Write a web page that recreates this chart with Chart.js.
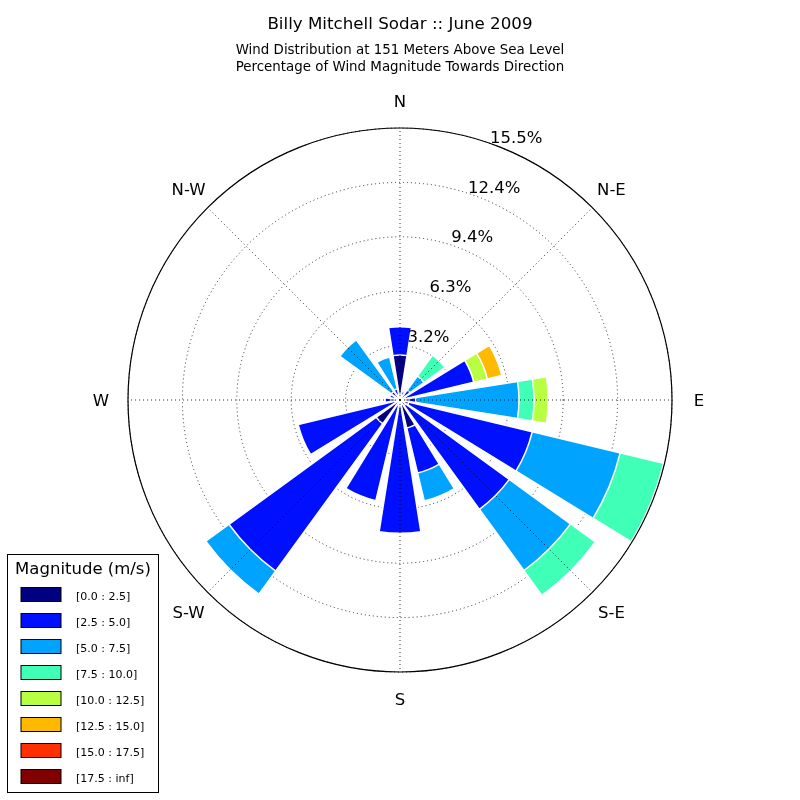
<!DOCTYPE html>
<html>
<head>
<meta charset="utf-8">
<script src="https://cdn.jsdelivr.net/npm/chart.js@4.4.1/dist/chart.umd.min.js"></script>
<style>
html,body{margin:0;padding:0;background:#fff;}
#wrap{width:800px;height:800px;position:relative;}
</style>
</head>
<body>
<div id="wrap"><canvas id="c" width="800" height="800"></canvas></div>
<script>
// ---- data ----
const directions = ['N','NNE','NE','ENE','E','ESE','SE','SSE','S','SSW','SW','WSW','W','WNW','NW','NNW'];
const binLabels = ['[0.0 : 2.5]','[2.5 : 5.0]','[5.0 : 7.5]','[7.5 : 10.0]','[10.0 : 12.5]','[12.5 : 15.0]','[15.0 : 17.5]','[17.5 : inf]'];
const binColors = ['#000080','#0010ff','#00a4ff','#40ffb7','#b7ff40','#ffb900','#ff3000','#800000'];
// percentage per speed bin, per direction (N, NNE, ... NNW)
const bin0 = [2.56, 0.30, 0.30, 0.30, 0.50, 0.51, 0.40, 1.64, 0.30, 0.30, 1.67, 0.30, 0.50, 0.30, 0.30, 0.30];
const bin1 = [1.62, 0.20, 0.40, 4.02, 0.40, 7.24, 7.30, 2.64, 7.30, 5.61, 10.38, 5.67, 0.35, 0.30, 0.30, 0.35];
const bin2 = [0, 0, 0.99, 0, 5.88, 5.15, 4.31, 1.64, 0, 0, 1.63, 0, 0, 0, 3.64, 1.87];
const bin3 = [0, 0, 1.47, 0, 0.86, 2.55, 1.75, 0, 0, 0, 0, 0, 0, 0, 0, 0];
const bin4 = [0, 0, 0, 0.80, 0.81, 0, 0, 0, 0, 0, 0, 0, 0, 0, 0, 0];
const bin5 = [0, 0, 0, 0.85, 0, 0, 0, 0, 0, 0, 0, 0, 0, 0, 0, 0];
const bin6 = [0, 0, 0, 0, 0, 0, 0, 0, 0, 0, 0, 0, 0, 0, 0, 0];
const bin7 = [0, 0, 0, 0, 0, 0, 0, 0, 0, 0, 0, 0, 0, 0, 0, 0];
const tickLabels = ['3.2%','6.3%','9.4%','12.4%','15.5%'];
const compassLabels = ['N','N-E','E','S-E','S','S-W','W','N-W'];
const titleText = 'Billy Mitchell Sodar :: June 2009';
const subtitleLines = ['Wind Distribution at 151 Meters Above Sea Level','Percentage of Wind Magnitude Towards Direction'];
const legendTitle = 'Magnitude (m/s)';
const rMax = 15.5;

// ---- build stacked (cumulative) datasets; each direction followed by a gap slot ----
const bins = [bin0, bin1, bin2, bin3, bin4, bin5, bin6, bin7];
const labels32 = [];
directions.forEach(d => { labels32.push(d); labels32.push(''); });
const cum = directions.map(() => 0);
const datasets = bins.map((b, k) => {
  const data = [];
  directions.forEach((d, i) => { cum[i] += b[i]; data.push(+cum[i].toFixed(4)); data.push(0); });
  return {
    label: binLabels[k],
    data: data,
    backgroundColor: binColors[k],
    borderColor: '#ffffff',
    borderWidth: (ctx) => (ctx.dataIndex % 2 === 0 ? 1.5 : 0),
    borderJoinStyle: 'miter',
    angle: (ctx) => (ctx.dataIndex % 2 === 0 ? 18 : 4.5)
  };
});

const FONT = '"DejaVu Sans", "Liberation Sans", sans-serif';
const DY = 2; // visual vertical centring correction for text

const decor = {
  id: 'decor',
  afterDraw(chart) {
    const ctx = chart.ctx;
    const s = chart.scales.r;
    const cx = s.xCenter, cy = s.yCenter, R = s.drawingArea;
    ctx.save();
    // angle lines (dotted)
    ctx.strokeStyle = 'rgba(0,0,0,0.8)';
    ctx.lineWidth = 1;
    ctx.setLineDash([1, 3]);
    for (let k = 0; k < 8; k++) {
      const a = k * Math.PI / 4;
      ctx.beginPath();
      ctx.moveTo(cx, cy);
      ctx.lineTo(cx + R * Math.sin(a), cy - R * Math.cos(a));
      ctx.stroke();
    }
    ctx.setLineDash([]);
    // outer circle
    ctx.strokeStyle = '#000';
    ctx.lineWidth = 1.2;
    ctx.beginPath();
    ctx.arc(cx, cy, R, 0, Math.PI * 2);
    ctx.stroke();
    // tick labels
    ctx.fillStyle = '#000';
    ctx.font = '16.5px ' + FONT;
    ctx.textAlign = 'center';
    ctx.textBaseline = 'middle';
    const ta = 23.8 * Math.PI / 180;
    s.ticks.forEach((t, i) => {
      if (i === 0) return;
      const d = s.getDistanceFromCenterForValue(t.value) + 16;
      ctx.fillText(tickLabels[i - 1], cx + d * Math.sin(ta), cy - d * Math.cos(ta) + DY);
    });
    // compass labels
    compassLabels.forEach((lab, k) => {
      const a = k * Math.PI / 4;
      const d = R + 27;
      ctx.fillText(lab, cx + d * Math.sin(a), cy - d * Math.cos(a) + DY);
    });
    // titles
    ctx.font = '16.7px ' + FONT;
    ctx.fillText(titleText, 400, 23 + DY);
    ctx.font = '13.4px ' + FONT;
    ctx.fillText(subtitleLines[0], 400, 49 + DY);
    ctx.fillText(subtitleLines[1], 400, 66 + DY);
    // legend
    ctx.fillStyle = '#fff';
    ctx.fillRect(7.5, 554.5, 151, 238);
    ctx.strokeStyle = '#000';
    ctx.lineWidth = 1;
    ctx.strokeRect(7.5, 554.5, 151, 238);
    ctx.fillStyle = '#000';
    ctx.font = '16.5px ' + FONT;
    ctx.textAlign = 'center';
    ctx.fillText(legendTitle, 83, 568 + DY);
    ctx.font = '11px ' + FONT;
    ctx.textAlign = 'left';
    binLabels.forEach((lab, k) => {
      const y = 587.5 + k * 26;
      ctx.fillStyle = binColors[k];
      ctx.fillRect(21, y, 40, 14);
      ctx.strokeStyle = '#000';
      ctx.strokeRect(21, y, 40, 14);
      ctx.fillStyle = '#000';
      ctx.fillText(lab, 76, y + 9 + 1);
    });
    ctx.restore();
  }
};

new Chart(document.getElementById('c'), {
  type: 'polarArea',
  data: { labels: labels32, datasets: datasets },
  options: {
    responsive: false,
    animation: false,
    devicePixelRatio: 1,
    layout: { padding: { top: 128, bottom: 128, left: 128, right: 128 } },
    plugins: { legend: { display: false }, tooltip: { enabled: false }, title: { display: false } },
    scales: {
      r: {
        z: 1,
        min: 0,
        max: rMax,
        startAngle: -9,
        ticks: { display: false, stepSize: 3.1 },
        pointLabels: { display: false },
        angleLines: { display: false },
        grid: { circular: true, color: 'rgba(0,0,0,0.8)', lineWidth: 1 },
        border: { dash: [1, 3] }
      }
    }
  },
  plugins: [decor]
});
</script>
</body>
</html>
